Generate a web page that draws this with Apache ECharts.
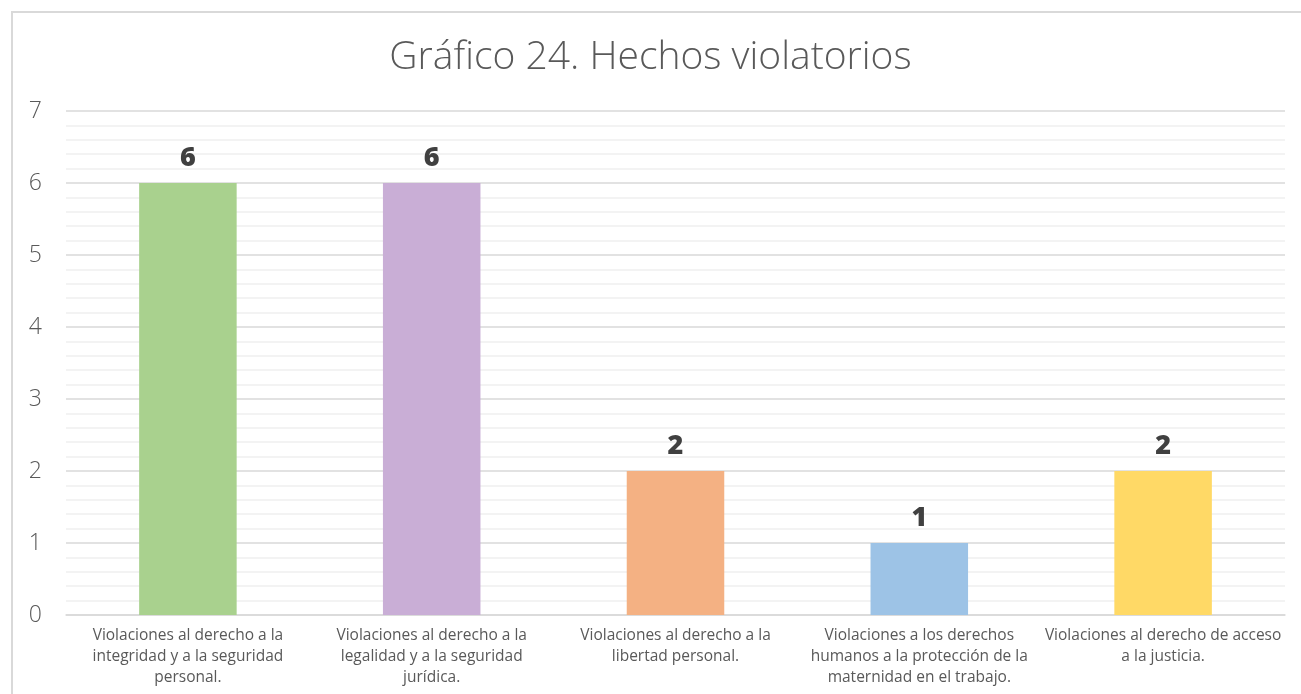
<!DOCTYPE html>
<html>
<head>
<meta charset="utf-8">
<script src="https://cdn.jsdelivr.net/npm/echarts@6/dist/echarts.min.js"></script>
<style>
html,body{margin:0;padding:0;background:#fff;}
#box{width:1301px;height:694px;}
</style>
</head>
<body>
<div id="box"></div>
<script>
var titulo = 'Gráfico 24. Hechos violatorios';
var categorias = [
	'Violaciones al derecho a la\nintegridad y a la seguridad\npersonal.',
	'Violaciones al derecho a la\nlegalidad y a la seguridad\njurídica.',
	'Violaciones al derecho a la\nlibertad personal.',
	'Violaciones a los derechos\nhumanos a la protección de la\nmaternidad en el trabajo.',
	'Violaciones al derecho de acceso\na la justicia.'
];
var valores = [6, 6, 2, 1, 2];
var colores = ['#a9d18e', '#c9aed6', '#f4b183', '#9dc3e6', '#ffd966'];

var datos = [];
for (var i = 0; i < valores.length; i++) {
	datos.push({value: valores[i], itemStyle: {color: colores[i]}});
}

var mychar = echarts.init(document.getElementById('box'));
var option = {
	animation: false,
	backgroundColor: '#fff',
	// marco del grafico
	graphic: [{
		type: 'rect',
		shape: {x: 12, y: 12, width: 1310, height: 700},
		style: {fill: 'none', stroke: '#d9d9d9', lineWidth: 2},
		silent: true
	}],
	title: {
		text: titulo,
		left: 'center',
		top: 33,
		textStyle: {fontFamily: 'Open Sans', fontSize: 39, fontWeight: 300, color: '#595959'}
	},
	grid: {left: 66, right: 16, top: 111, bottom: 79},
	xAxis: [{
		type: 'category',
		data: categorias,
		axisLine: {show: true, lineStyle: {color: '#d9d9d9', width: 1.5}},
		axisTick: {show: false},
		axisLabel: {
			interval: 0,
			margin: 10,
			fontFamily: 'Open Sans',
			fontSize: 15.5,
			lineHeight: 21,
			color: '#595959',
			align: 'center'
		}
	}],
	yAxis: [{
		type: 'value',
		min: 0,
		max: 7,
		interval: 1,
		axisLine: {show: false},
		axisTick: {show: false},
		axisLabel: {margin: 24, fontFamily: 'Open Sans', fontSize: 23, fontWeight: 300, color: '#595959'},
		splitLine: {lineStyle: {color: '#d9d9d9', width: 1.5}},
		minorTick: {show: false, splitNumber: 5},
		minorSplitLine: {show: true, lineStyle: {color: '#f0f0f0', width: 1.5}}
	}],
	series: [{
		type: 'bar',
		barWidth: '40%',
		data: datos,
		label: {
			show: true,
			position: 'top',
			distance: 11,
			fontFamily: 'Open Sans',
			fontWeight: 800,
			fontSize: 27,
			color: '#404040'
		}
	}]
};
mychar.setOption(option);
</script>
</body>
</html>
